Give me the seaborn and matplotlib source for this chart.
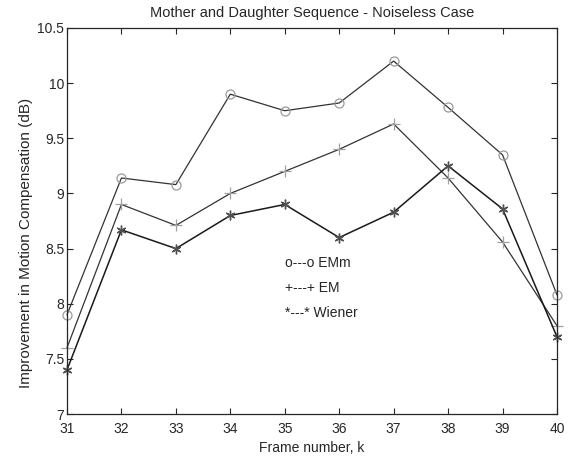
import seaborn as sns
import matplotlib.pyplot as plt
import pandas as pd

frames = [31, 32, 33, 34, 35, 36, 37, 38, 39, 40]
emm = [7.9, 9.14, 9.08, 9.9, 9.75, 9.82, 10.2, 9.78, 9.35, 8.08]
em = [7.6, 8.9, 8.71, 9.0, 9.2, 9.4, 9.63, 9.14, 8.56, 7.8]
wiener = [7.4, 8.67, 8.5, 8.8, 8.9, 8.6, 8.83, 9.25, 8.86, 7.7]
legend_lines = ["o---o EMm", "+---+ EM", "*---* Wiener"]

df = pd.DataFrame({"k": frames, "EMm": emm, "EM": em, "Wiener": wiener})

sns.set_style("ticks")
plt.rcParams['font.family'] = ['Liberation Sans', 'DejaVu Sans']
plt.rcParams['xtick.direction'] = 'in'
plt.rcParams['ytick.direction'] = 'in'

fig = plt.figure(figsize=(5.85, 4.59), dpi=100)
ax = fig.add_axes([0.1145, 0.098, 0.8376, 0.841])

line_col = '#333333'
sns.lineplot(data=df, x="k", y="EMm", ax=ax, color=line_col, lw=0.9,
             marker='o', markersize=6.5, markerfacecolor='none',
             markeredgecolor='#9a9a9a', markeredgewidth=0.9, clip_on=False)
sns.lineplot(data=df, x="k", y="EM", ax=ax, color=line_col, lw=0.9,
             marker='+', markersize=8, markeredgecolor='#a0a0a0',
             markeredgewidth=0.9, clip_on=False)
sns.lineplot(data=df, x="k", y="Wiener", ax=ax, color='#1a1a1a', lw=1.1,
             marker=(6, 2, 0), markersize=7, markeredgecolor='#505050',
             markeredgewidth=1.0, clip_on=False)

ax.set_xlim(31, 40)
ax.set_ylim(7, 10.5)
ax.set_xticks(frames)
ax.set_yticks([7, 7.5, 8, 8.5, 9, 9.5, 10, 10.5])
ax.set_yticklabels(["7", "7.5", "8", "8.5", "9", "9.5", "10", "10.5"])
ax.tick_params(labelsize=10, top=True, right=True, length=4, width=0.8, pad=2)
ax.tick_params(axis='x', pad=6)
for s in ax.spines.values():
    s.set_linewidth(0.9)

ax.set_title("Mother and Daughter Sequence - Noiseless Case", fontsize=10.5, pad=8)
ax.set_xlabel("Frame number, k", fontsize=10, labelpad=3)
ax.set_ylabel("Improvement in Motion Compensation (dB)", fontsize=11,
              labelpad=3, y=0.443)

for i, txt in enumerate(legend_lines):
    ax.text(35.0, 8.37 - i * 0.228, txt, fontsize=10, va='center', ha='left')

fig.savefig("out.png", dpi=100)
